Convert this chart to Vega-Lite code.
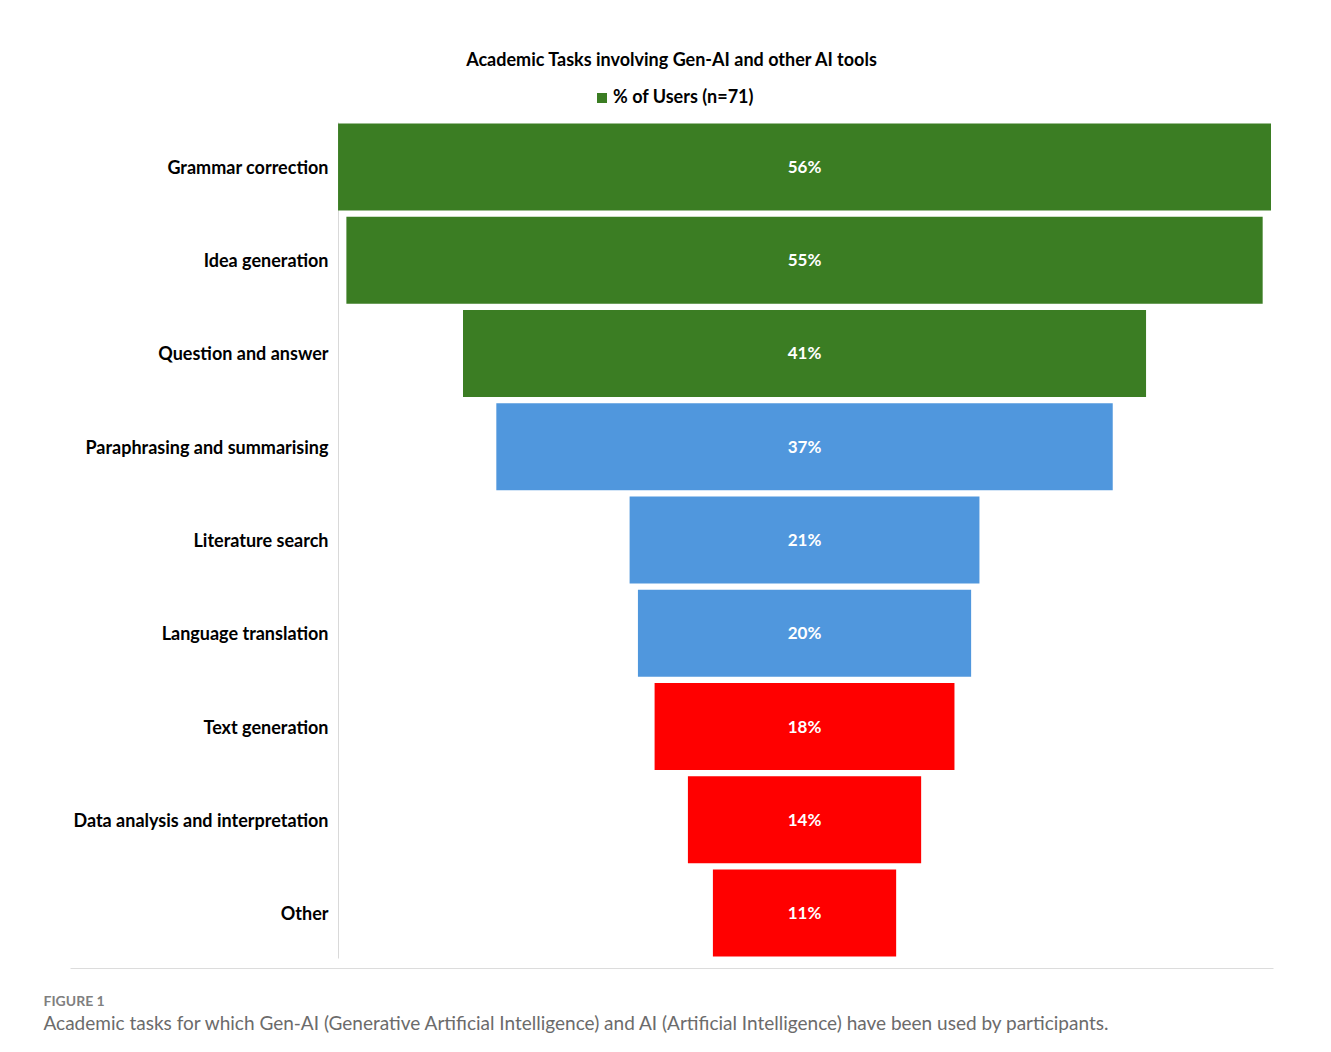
{
  "$schema": "https://vega.github.io/schema/vega-lite/v6.json",
  "autosize": {"type": "none"},
  "padding": {"left": 70, "top": 122, "right": 58, "bottom": 94},
  "width": 1203,
  "height": 836,
  "background": "white",
  "config": {"view": {"stroke": null}, "font": "Lato"},
  "title": {
    "text": "Academic Tasks involving Gen-AI and other AI tools",
    "anchor": "middle",
    "frame": "group",
    "font": "Lato",
    "fontSize": 18,
    "fontWeight": "bold",
    "color": "#000000",
    "offset": 19
  },
  "data": {
    "values": [
      {"task": "Grammar correction", "share": 0.56, "group": "% of Users (n=71)"},
      {"task": "Idea generation", "share": 0.55, "group": "% of Users (n=71)"},
      {"task": "Question and answer", "share": 0.41, "group": "% of Users (n=71)"},
      {"task": "Paraphrasing and summarising", "share": 0.37, "group": "tier 2"},
      {"task": "Literature search", "share": 0.21, "group": "tier 2"},
      {"task": "Language translation", "share": 0.20, "group": "tier 2"},
      {"task": "Text generation", "share": 0.18, "group": "tier 3"},
      {"task": "Data analysis and interpretation", "share": 0.14, "group": "tier 3"},
      {"task": "Other", "share": 0.11, "group": "tier 3"}
    ]
  },
  "encoding": {
    "y": {
      "field": "task",
      "type": "nominal",
      "sort": null,
      "scale": {"paddingInner": 0.067, "paddingOuter": 0.016},
      "axis": {
        "orient": "left",
        "offset": -268,
        "domainColor": "#d9d9d9",
        "domainWidth": 1,
        "ticks": false,
        "labelPadding": 10,
        "labelOffset": 2,
        "labelFont": "Lato",
        "labelFontSize": 18,
        "labelFontWeight": "bold",
        "labelColor": "#000000",
        "labelLimit": 400,
        "title": "FIGURE 1",
        "titleAngle": 0,
        "titleAlign": "left",
        "titleBaseline": "alphabetic",
        "titleX": -295,
        "titleY": 883,
        "titleFont": "Lato",
        "titleFontSize": 14,
        "titleFontWeight": "bold",
        "titleColor": "#7f7f7f"
      }
    }
  },
  "layer": [
    {
      "mark": {"type": "bar"},
      "encoding": {
        "x": {
          "field": "share",
          "type": "quantitative",
          "stack": "center",
          "scale": {"domain": [-0.1609, 0.5612], "nice": false, "zero": false},
          "axis": {
            "orient": "bottom",
            "offset": 10,
            "domainColor": "#dcdcdc",
            "domainWidth": 1,
            "ticks": false,
            "labels": false,
            "grid": false,
            "title": "Academic tasks for which Gen-AI (Generative Artificial Intelligence) and AI (Artificial Intelligence) have been used by participants.",
            "titleX": -27,
            "titleY": 61,
            "titleAlign": "left",
            "titleAnchor": "start",
            "titleBaseline": "alphabetic",
            "titleFont": "Lato",
            "titleFontSize": 19,
            "titleFontWeight": "normal",
            "titleColor": "#6b6b6b"
          }
        },
        "color": {
          "field": "group",
          "type": "nominal",
          "scale": {
            "domain": ["% of Users (n=71)", "tier 2", "tier 3"],
            "range": ["#3b7d23", "#5097dd", "#ff0000"]
          },
          "legend": {
            "values": ["% of Users (n=71)"],
            "title": null,
            "orient": "none",
            "legendX": 523,
            "legendY": -33,
            "symbolType": "square",
            "symbolSize": 100,
            "symbolOpacity": 1,
            "labelFont": "Lato",
            "labelFontSize": 18,
            "labelFontWeight": "bold",
            "labelColor": "#000000",
            "labelOffset": 2,
            "padding": 0
          }
        }
      }
    },
    {
      "mark": {"type": "text", "color": "white", "font": "Lato", "fontSize": 17, "fontWeight": "bold", "align": "center", "baseline": "middle", "dy": 1},
      "encoding": {
        "x": {"datum": 0.28, "type": "quantitative"},
        "text": {"field": "share", "type": "quantitative", "format": ".0%"}
      }
    }
  ]
}
